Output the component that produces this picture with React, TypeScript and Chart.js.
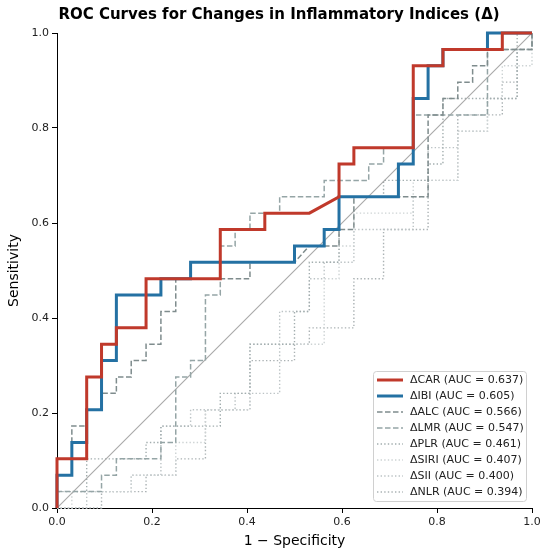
import React, { useEffect, useRef } from "react";
import { Chart, registerables } from "chart.js";

Chart.register(...registerables);

const N_NEG = 32;
const N_POS = 29;

const CAR_FP = [0, 0, 2, 2, 3, 3, 4, 4, 6, 6, 11, 11, 14, 14, 17, 19, 19, 20, 20, 24, 24, 26, 26, 30, 30, 32];
const CAR_TP = [0, 3, 3, 8, 8, 10, 10, 11, 11, 14, 14, 17, 17, 18, 18, 19, 21, 21, 22, 22, 27, 27, 28, 28, 29, 29];

const IBI_FP = [0, 0, 1, 1, 2, 2, 3, 3, 4, 4, 7, 7, 9, 9, 16, 16, 18, 18, 19, 19, 23, 23, 24, 24, 25, 25, 26, 26, 29, 29, 32];
const IBI_TP = [0, 2, 2, 4, 4, 6, 6, 9, 9, 13, 13, 14, 14, 15, 15, 16, 16, 17, 17, 19, 19, 21, 21, 25, 25, 27, 27, 28, 28, 29, 29];

const ALC_FP = [0, 0, 1, 1, 2, 2, 3, 3, 4, 4, 5, 5, 6, 6, 7, 7, 8, 8, 13, 13, 16, 17, 19, 19, 20, 20, 25, 25, 26, 26, 27, 27, 28, 28, 29, 29, 32, 32];
const ALC_TP = [0, 2, 2, 5, 5, 6, 6, 7, 7, 8, 8, 9, 9, 10, 10, 12, 12, 14, 14, 15, 15, 16, 16, 17, 17, 19, 19, 24, 24, 25, 25, 26, 26, 27, 27, 28, 28, 29];

const LMR_FP = [0, 0, 3, 3, 4, 4, 7, 7, 8, 8, 9, 9, 10, 10, 11, 11, 12, 12, 13, 13, 15, 15, 18, 18, 21, 21, 22, 22, 24, 24, 29, 29, 32, 32];
const LMR_TP = [0, 1, 1, 2, 2, 3, 3, 4, 4, 8, 8, 9, 9, 13, 13, 16, 16, 17, 17, 18, 18, 19, 19, 20, 20, 21, 21, 22, 22, 24, 24, 28, 28, 29];

const PLR_FP = [0, 0, 2, 2, 6, 6, 7, 7, 11, 11, 13, 13, 16, 16, 17, 17, 19, 19, 22, 22, 25, 25, 26, 26, 31, 31, 32];
const PLR_TP = [0, 1, 1, 3, 3, 4, 4, 5, 5, 7, 7, 10, 10, 12, 12, 15, 15, 19, 19, 20, 20, 21, 21, 25, 25, 29, 29];

const SIRI_FP = [0, 1, 1, 5, 5, 8, 8, 10, 10, 13, 13, 18, 18, 19, 19, 20, 20, 24, 24, 27, 27, 29, 29, 30, 30, 32, 32];
const SIRI_TP = [0, 0, 1, 1, 2, 2, 4, 4, 6, 6, 10, 10, 14, 14, 16, 16, 18, 18, 20, 20, 23, 23, 25, 25, 27, 27, 29];

const SII_FP = [0, 2, 2, 5, 5, 7, 7, 9, 9, 12, 12, 15, 15, 17, 17, 18, 18, 20, 20, 24, 24, 25, 25, 27, 27, 29, 29, 31, 31, 32, 32];
const SII_TP = [0, 0, 1, 1, 2, 2, 5, 5, 6, 6, 7, 7, 12, 12, 14, 14, 15, 15, 17, 17, 19, 19, 22, 22, 23, 23, 25, 25, 28, 28, 29];

const NLR_FP = [0, 3, 3, 6, 6, 8, 8, 10, 10, 13, 13, 16, 16, 17, 17, 20, 20, 22, 22, 25, 25, 27, 27, 30, 30, 31, 31, 32, 32];
const NLR_TP = [0, 0, 1, 1, 2, 2, 3, 3, 6, 6, 9, 9, 10, 10, 11, 11, 14, 14, 17, 17, 20, 20, 24, 24, 26, 26, 28, 28, 29];

const LABELS = [
  "ΔCAR (AUC = 0.637)",
  "ΔIBI (AUC = 0.605)",
  "ΔALC (AUC = 0.566)",
  "ΔLMR (AUC = 0.547)",
  "ΔPLR (AUC = 0.461)",
  "ΔSIRI (AUC = 0.407)",
  "ΔSII (AUC = 0.400)",
  "ΔNLR (AUC = 0.394)",
];

const AXIS_TICKS = [0, 0.2, 0.4, 0.6, 0.8, 1.0];

const FONT = "'DejaVu Sans', sans-serif";

type Style = { color: string; width: number; dash: number[] };
const STYLES: Style[] = [
  { color: "#c0392b", width: 3, dash: [] },
  { color: "#2471a3", width: 3, dash: [] },
  { color: "#7f8c8d", width: 1.5, dash: [5.5, 2.5] },
  { color: "#95a5a6", width: 1.5, dash: [5.5, 2.5] },
  { color: "#a2adae", width: 1.4, dash: [1.4, 2.2] },
  { color: "#cdd3d4", width: 1.4, dash: [1.4, 2.2] },
  { color: "#bcc3c5", width: 1.4, dash: [1.4, 2.2] },
  { color: "#abb2b4", width: 1.4, dash: [1.4, 2.2] },
];

function pts(fp: number[], tp: number[]) {
  return fp.map((v, i) => ({ x: v / N_NEG, y: tp[i] / N_POS }));
}

export default function App() {
  const ref = useRef<HTMLCanvasElement | null>(null);

  useEffect(() => {
    if (!ref.current) return;
    const series = [
      pts(CAR_FP, CAR_TP),
      pts(IBI_FP, IBI_TP),
      pts(ALC_FP, ALC_TP),
      pts(LMR_FP, LMR_TP),
      pts(PLR_FP, PLR_TP),
      pts(SIRI_FP, SIRI_TP),
      pts(SII_FP, SII_TP),
      pts(NLR_FP, NLR_TP),
    ];
    const mk = (i: number) => ({
      label: LABELS[i],
      data: series[i],
      borderColor: STYLES[i].color,
      borderWidth: STYLES[i].width,
      borderDash: STYLES[i].dash,
      pointRadius: 0,
      tension: 0,
      fill: false,
      clip: false as any,
    });
    const datasets: any[] = [
      mk(0),
      mk(1),
      mk(2),
      mk(3),
      {
        label: "diag",
        data: [
          { x: 0, y: 0 },
          { x: 1, y: 1 },
        ],
        borderColor: "#a8a8a8",
        borderWidth: 1.1,
        pointRadius: 0,
        fill: false,
      },
      mk(4),
      mk(5),
      mk(6),
      mk(7),
    ];

    const overlay = {
      id: "overlay",
      afterDraw(chart: any) {
        const ctx = chart.ctx as CanvasRenderingContext2D;
        const area = chart.chartArea;
        ctx.save();
        // title
        ctx.fillStyle = "#000";
        ctx.font = `bold 15px ${FONT}`;
        ctx.textAlign = "center";
        ctx.textBaseline = "middle";
        ctx.fillText("ROC Curves for Changes in Inflammatory Indices (Δ)", 279, 15);
        // axis titles
        ctx.font = `14px ${FONT}`;
        ctx.fillText("1 − Specificity", (area.left + area.right) / 2, 541);
        ctx.save();
        ctx.translate(14, (area.top + area.bottom) / 2);
        ctx.rotate(-Math.PI / 2);
        ctx.fillText("Sensitivity", 0, 0);
        ctx.restore();
        // legend
        const bx = 373.5, by = 371.5, bw = 153, bh = 130;
        ctx.beginPath();
        const r = 3;
        ctx.moveTo(bx + r, by);
        ctx.lineTo(bx + bw - r, by);
        ctx.arcTo(bx + bw, by, bx + bw, by + r, r);
        ctx.lineTo(bx + bw, by + bh - r);
        ctx.arcTo(bx + bw, by + bh, bx + bw - r, by + bh, r);
        ctx.lineTo(bx + r, by + bh);
        ctx.arcTo(bx, by + bh, bx, by + bh - r, r);
        ctx.lineTo(bx, by + r);
        ctx.arcTo(bx, by, bx + r, by, r);
        ctx.closePath();
        ctx.fillStyle = "rgba(255,255,255,0.85)";
        ctx.fill();
        ctx.strokeStyle = "#d0d0d0";
        ctx.lineWidth = 1;
        ctx.stroke();
        ctx.font = `11px ${FONT}`;
        ctx.textAlign = "left";
        for (let i = 0; i < LABELS.length; i++) {
          const y = 380 + i * 16;
          const st = STYLES[i];
          ctx.beginPath();
          ctx.setLineDash(st.dash);
          ctx.strokeStyle = st.color;
          ctx.lineWidth = st.width;
          ctx.moveTo(377, y);
          ctx.lineTo(403, y);
          ctx.stroke();
          ctx.setLineDash([]);
          ctx.fillStyle = "#222";
          ctx.fillText(LABELS[i], 410, y + 0.5);
        }
        ctx.restore();
      },
    };

    const axisCommon = {
      type: "linear" as const,
      min: 0,
      max: 1,
      grid: {
        drawOnChartArea: false,
        drawTicks: true,
        tickLength: 5,
        color: "#000",
      },
      border: { display: true, color: "#000", width: 1 },
      ticks: {
        stepSize: 0.2,
        color: "#222",
        font: { family: FONT, size: 11 },
        padding: 3,
        callback: (v: any) => Number(v).toFixed(1),
      },
    };

    const chart = new Chart(ref.current, {
      type: "line",
      data: { datasets },
      plugins: [overlay],
      options: {
        animation: false,
        responsive: false,
        maintainAspectRatio: false,
        layout: { padding: { left: 0, top: 33, right: 18, bottom: 0 } },
        plugins: {
          legend: { display: false },
          title: { display: false },
          tooltip: { enabled: false },
        },
        scales: {
          x: {
            ...axisCommon,
            afterFit: (s: any) => {
              s.height = 49;
            },
            afterBuildTicks: (s: any) => {
              s.ticks = AXIS_TICKS.map((v) => ({ value: v }));
            },
          },
          y: {
            ...axisCommon,
            afterFit: (s: any) => {
              s.width = 57;
            },
            afterBuildTicks: (s: any) => {
              s.ticks = AXIS_TICKS.map((v) => ({ value: v }));
            },
          },
        },
      } as any,
    });
    return () => chart.destroy();
  }, []);

  return (
    <div style={{ position: "fixed", left: 0, top: 0, width: 550, height: 557, background: "#fff" }}>
      <canvas ref={ref} width={550} height={557} style={{ width: 550, height: 557 }} />
    </div>
  );
}
